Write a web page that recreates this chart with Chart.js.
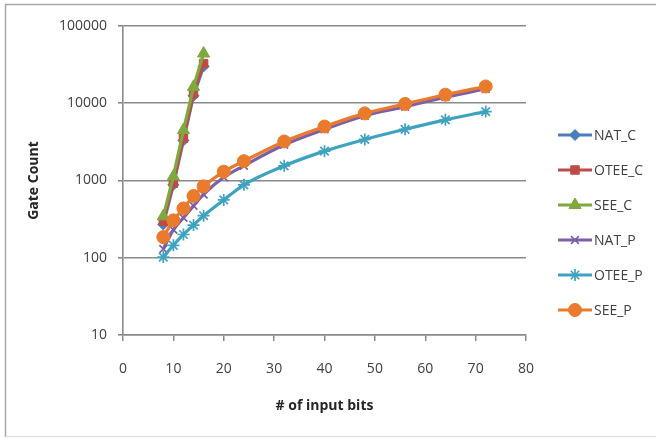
<!DOCTYPE html>
<html>
<head>
<meta charset="utf-8">
<script src="https://cdn.jsdelivr.net/npm/chart.js@4"></script>
<style>
  html, body { margin: 0; padding: 0; background: #ffffff; }
  #wrap { width: 656px; height: 438px; position: relative; }
</style>
</head>
<body>
<div id="wrap"><canvas id="c" width="656" height="438"></canvas></div>
<script>
// ---- data ----
const xC = [8, 10, 12, 14, 16];
const xP = [8, 10, 12, 14, 16, 20, 24, 32, 40, 48, 56, 64, 72];
const natC  = [270, 880, 3300, 12500, 30000];
const oteeC = [296, 925, 3520, 13400, 32600];
const seeC  = [344, 1130, 4500, 16300, 44000];
const natP  = [130, 230, 330, 470, 660, 1100, 1550, 2900, 4600, 6900, 9000, 12000, 15300];
const oteeP = [102, 145, 200, 265, 350, 560, 880, 1550, 2400, 3400, 4600, 6100, 7800];
const seeP  = [185, 305, 435, 630, 840, 1300, 1780, 3200, 5000, 7400, 9800, 12900, 16500];
const seriesNames = ['NAT_C', 'OTEE_C', 'SEE_C', 'NAT_P', 'OTEE_P', 'SEE_P'];
const yTicks = [10, 100, 1000, 10000, 100000];
const xTitle = '# of input bits';
const yTitle = 'Gate Count';

const pts = (xs, ys) => xs.map((x, i) => ({ x: x, y: ys[i] }));

const styles = [
  { color: '#4A7EBB', shape: 'rectRot', r: 5.5, smooth: false },
  { color: '#BE4B48', shape: 'rect', r: 6, smooth: false },
  { color: '#7FA83F', shape: 'triangle', r: 7, smooth: false },
  { color: '#7D5FA8', shape: 'crossRot', r: 5.5, smooth: true },
  { color: '#3FA3BF', shape: 'star', r: 6, smooth: true },
  { color: '#EA7B2C', shape: 'circle', r: 6.5, smooth: true }
];
const seriesData = [pts(xC, natC), pts(xC, oteeC), pts(xC, seeC), pts(xP, natP), pts(xP, oteeP), pts(xP, seeP)];

const datasets = seriesNames.map((name, i) => {
  const s = styles[i];
  const filledShape = !(s.shape === 'crossRot' || s.shape === 'star');
  return {
    label: name,
    data: seriesData[i],
    borderColor: s.color,
    backgroundColor: s.color,
    borderWidth: 3.2,
    pointStyle: s.shape,
    pointRadius: s.r,
    pointBorderWidth: filledShape ? 1 : 1.7,
    pointBorderColor: s.color,
    pointBackgroundColor: s.color,
    cubicInterpolationMode: s.smooth ? 'monotone' : 'default',
    tension: 0,
    order: 6 - i
  };
});

const textColor = '#404040';
const gridColor = '#8a8a8a';
const FONT = '"Open Sans", "Liberation Sans", sans-serif';

const framePlugin = {
  id: 'frame',
  beforeDraw(chart) {
    const ctx = chart.ctx;
    ctx.save();
    ctx.strokeStyle = '#a8a8a8';
    ctx.lineWidth = 1.5;
    ctx.beginPath();
    ctx.moveTo(5.5, 437);
    ctx.lineTo(5.5, 4.5);
    ctx.lineTo(656, 4.5);
    ctx.stroke();
    ctx.strokeStyle = '#e4e4e4';
    ctx.beginPath();
    ctx.moveTo(5.5, 436.5);
    ctx.lineTo(656, 436.5);
    ctx.stroke();
    ctx.restore();
  }
};

const legendPlugin = {
  id: 'customLegend',
  afterDraw(chart) {
    const ctx = chart.ctx;
    ctx.save();
    chart.data.datasets.forEach((ds, i) => {
      const y = 135 + 35 * i;
      ctx.strokeStyle = ds.borderColor;
      ctx.lineWidth = 3.2;
      ctx.beginPath();
      ctx.moveTo(558, y);
      ctx.lineTo(592, y);
      ctx.stroke();
      ctx.fillStyle = ds.pointBackgroundColor;
      ctx.strokeStyle = ds.pointBorderColor;
      ctx.lineWidth = ds.pointBorderWidth;
      Chart.helpers.drawPoint(ctx, { pointStyle: ds.pointStyle, radius: ds.pointRadius, rotation: 0, borderWidth: ds.pointBorderWidth }, 575, y);
      ctx.fillStyle = textColor;
      ctx.font = '14px ' + FONT;
      ctx.textAlign = 'left';
      ctx.textBaseline = 'middle';
      ctx.fillText(ds.label, 594, y + 1);
    });
    ctx.restore();
  }
};

new Chart(document.getElementById('c'), {
  type: 'line',
  data: { datasets: datasets },
  plugins: [framePlugin, legendPlugin],
  options: {
    responsive: false,
    animation: false,
    devicePixelRatio: 1,
    layout: { padding: { left: 20, top: 26, right: 130, bottom: 20 } },
    plugins: { legend: { display: false }, tooltip: { enabled: false } },
    scales: {
      x: {
        type: 'linear',
        min: 0, max: 80,
        ticks: { stepSize: 10, color: textColor, font: { family: FONT, size: 14 }, padding: 20 },
        grid: { drawOnChartArea: false, drawTicks: true, tickLength: 6, color: gridColor, lineWidth: 1.5 },
        border: { display: true, color: gridColor, width: 1.5 },
        title: { display: true, text: xTitle, color: '#262626', font: { family: FONT, size: 14, weight: 'bold' }, padding: { top: 0, bottom: 4 } },
        afterFit(scale) { scale.height = 83; }
      },
      y: {
        type: 'logarithmic',
        min: 10, max: 100000,
        afterBuildTicks(scale) { scale.ticks = yTicks.map(v => ({ value: v })); },
        ticks: { color: textColor, font: { family: FONT, size: 14 }, padding: 11, callback: v => String(v) },
        grid: { color: gridColor, lineWidth: 1.6, tickLength: 5 },
        border: { display: true, color: gridColor, width: 1.6 },
        title: { display: true, text: yTitle, color: '#262626', font: { family: FONT, size: 14, weight: 'bold' }, padding: { top: 6, bottom: 0 } },
        afterFit(scale) { scale.width = 103; }
      }
    }
  }
});
</script>
</body>
</html>
